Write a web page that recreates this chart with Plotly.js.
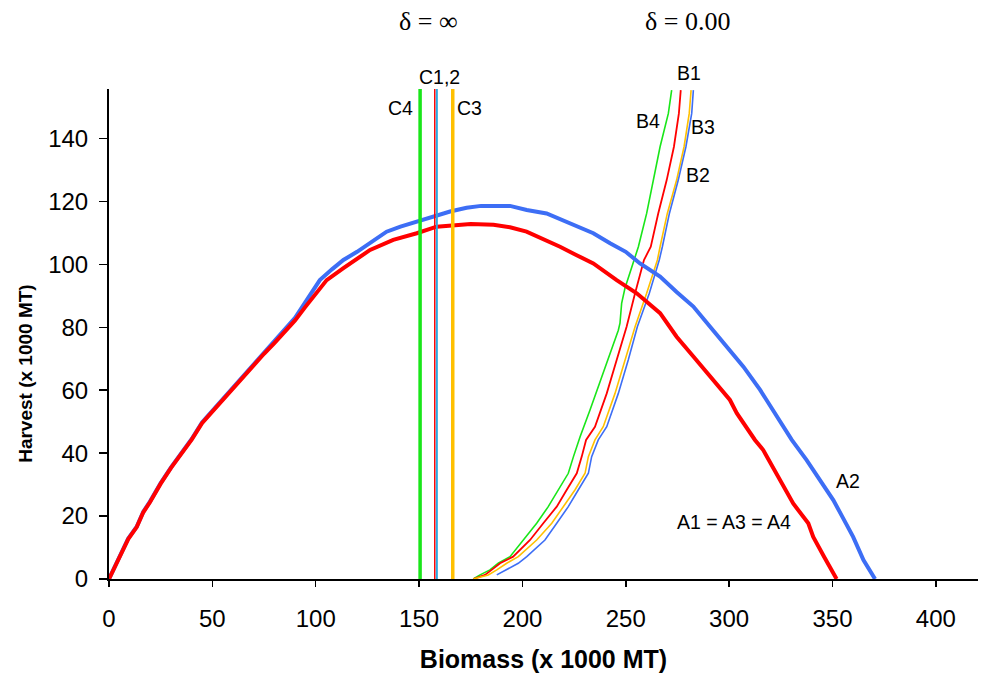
<!DOCTYPE html>
<html>
<head>
<meta charset="utf-8">
<script src="https://cdn.plot.ly/plotly-3.0.1.min.js"></script>
<style>html,body{margin:0;padding:0;background:#fff;}#chart{width:981px;height:675px;}</style>
</head>
<body>
<div id="chart"></div>
<script>
// ---- Data ----
// A2 (blue) equilibrium harvest curve
const a2Biomass = [0,5.3,9.3,13.4,16.6,19.8,25,30,35,40,45,50,55,60,65,70,75,80,85,90,95,102,108,113.4,120,127,134.3,141,148.9,157,165,173,180,194,202.1,211.7,223,234.3,242.4,250,256.9,261.7,266.6,274.6,282.7,290.8,298.8,306.9,315,322.5,330.3,337.5,344,350.4,355,360,365,370.6];
const a2Harvest = [0,7.1,12.9,16.6,21.4,24.6,30.5,35.5,40,44.5,49.8,53.5,57,61,64.5,68.5,72,75.5,79.5,83,88,95,98.5,101.4,104,107,110.4,112,113.6,115.3,116.8,118,118.6,118.6,117.3,116.2,113.1,109.9,106.7,104,100.3,98.1,96.1,91.2,86.6,80.2,73.8,67.5,60.1,52.5,44.2,37.8,31.5,25.1,19.5,13.4,6,0];
// A1 = A3 = A4 (red)
const a1Biomass = [0,5.3,9.3,13.4,16.6,19.8,25,30,35,40,45,50,55,60,65,70,75,80,85,90,95,105.3,113.4,120,126.3,137.5,148.9,158.5,166.6,175,186,194,202,210,218.2,226,234.3,245.6,255.3,266.6,274.6,282.7,292.4,300.4,303.7,312.5,316.5,324,331,338.3,340.7,346,352];
const a1Harvest = [0,7,12.7,16.5,21.2,24.4,30.3,35.3,39.8,44.3,49.5,53.2,56.8,60.7,64.3,68.2,71.6,75,78.8,82.2,86.5,95,98.8,101.8,104.6,107.8,109.9,112,112.5,112.8,112.6,111.8,110.4,108.2,105.6,103,100.3,95,90.8,84.5,77,70.7,63.3,56.9,52.7,44.2,41,32,24,17.7,13.4,7,0];
// B curves (delta = 0.00)
const b4Biomass = [176.2,179.5,184.3,188.3,194.0,200.4,206.9,212.5,217.4,222.2,224.7,227.9,232.7,236.7,240.0,244.0,246.4,247.2,248.0,249.6,254.1,256.1,260.1,263.3,266.6,270.6,272.2];
const b4Harvest = [0,1.3,2.9,5.0,7.1,12.4,17.7,23.0,28.3,33.6,38.9,45.2,53.7,61.1,67.5,74.9,79.1,81.3,87.6,92.4,101.4,105.6,116.2,126.8,137.4,148.0,155.4];
const b1Biomass = [176.2,181.9,185.1,189.2,195.5,203.7,210.1,216.6,221.4,226.3,228.7,230.8,235.1,240.8,245.6,250.4,254.5,258.8,262.1,265.7,269.8,273.3,275.7,276.6];
const b1Harvest = [0,1.3,2.9,5.0,7.1,12.4,17.7,23.0,28.3,33.6,38.9,44.2,48.4,59.0,69.6,80.2,90.8,101.4,105.6,116.2,126.8,137.4,148.0,155.4];
const b3Biomass = [176.2,183.5,187.6,192.4,198.0,206.9,214.2,219.8,225.4,230.3,231.9,235.1,239.1,244.8,249.6,254.5,260.1,265.3,266.6,270.1,274.6,278.2,280.7,281.6];
const b3Harvest = [0,1.3,2.9,5.0,7.1,12.4,17.7,23.0,28.3,33.6,38.9,44.2,48.4,59.0,69.6,80.2,90.8,101.4,105.6,116.2,126.8,137.4,148.0,155.4];
const b2Biomass = [187.6,192.4,198.0,202.1,210.9,216.6,222.2,227.0,231.9,233.5,236.7,240.8,246.4,251.2,255.6,261.4,266.2,267.7,271.1,275.4,279.1,281.9,282.7];
const b2Harvest = [1.3,2.9,5.0,7.1,12.4,17.7,23.0,28.3,33.6,38.9,44.2,48.4,59.0,69.6,80.2,90.8,101.4,105.6,116.2,126.8,137.4,148.0,155.4];
// C lines (delta = infinity): constant biomass
const cNames = ["C4","C1","C2","C3"];
const cBiomass = [150.5,157.6,158.6,166.3];
const cHarvestSpan = [0,156];
// Axis ticks
const xTicks = [0,50,100,150,200,250,300,350,400];
const yTicks = [0,20,40,60,80,100,120,140];

// ---- Styles ----
const RED = "#ff0000", BLUE = "#3d6ef5", GREEN = "#19e619", ORANGE = "#ffc000", CYAN = "#2aa9e0";

function line(x, y, color, width, name) {
  return {x: x, y: y, type: "scatter", mode: "lines", name: name,
          line: {color: color, width: width}, hoverinfo: "skip"};
}

const traces = [
  line(b4Biomass, b4Harvest, GREEN, 1.6, "B4"),
  line(b1Biomass, b1Harvest, RED, 1.8, "B1"),
  line(b3Biomass, b3Harvest, ORANGE, 1.6, "B3"),
  line(b2Biomass, b2Harvest, BLUE, 1.6, "B2"),
  line(a2Biomass, a2Harvest, BLUE, 4, "A2"),
  line(a1Biomass, a1Harvest, RED, 4, "A1"),
];
const cColors = [GREEN, RED, CYAN, ORANGE];
const cWidths = [3.5, 1.5, 2, 3.5];
cNames.forEach((n, i) => {
  traces.push(line([cBiomass[i], cBiomass[i]], cHarvestSpan, cColors[i], cWidths[i], n));
});

const lab = {family: "Liberation Sans, Arial, sans-serif", size: 19.5, color: "#000"};
const ser = {family: "Liberation Serif, Times New Roman, serif", size: 26, color: "#000"};
function ann(text, x, y, font, yref) {
  return {text: text, x: x, y: y, xref: "x", yref: yref || "y", showarrow: false,
          font: font, xanchor: "center", yanchor: "middle"};
}

const NB = "\u00a0";
const layout = {
  width: 981, height: 675,
  margin: {l: 109, r: 3, t: 89, b: 96},
  paper_bgcolor: "#fff", plot_bgcolor: "#fff",
  showlegend: false,
  font: {family: "Liberation Sans, Arial, sans-serif", color: "#000"},
  xaxis: {
    range: [0, 420.4], tickvals: xTicks, ticktext: xTicks.map(String),
    showgrid: false, zeroline: false, showline: true, linecolor: "#000", linewidth: 2,
    ticks: "outside", ticklen: 6, tickwidth: 1.5, tickcolor: "#000",
    tickfont: {size: 24, family: "Liberation Sans, Arial, sans-serif"},
    ticklabelstandoff: 11,
    title: {text: "<b>Biomass (x 1000 MT)</b>", font: {size: 25}, standoff: 20},
    automargin: false
  },
  yaxis: {
    range: [0, 155.75], tickvals: yTicks, ticktext: yTicks.map(String),
    showgrid: false, zeroline: false, showline: true, linecolor: "#000", linewidth: 2,
    ticks: "outside", ticklen: 8, tickwidth: 1.5, tickcolor: "#000",
    tickfont: {size: 24, family: "Liberation Sans, Arial, sans-serif"},
    ticklabelstandoff: 6,
    title: {text: "<b>Harvest (x 1000 MT)" + NB.repeat(15) + "</b>", font: {size: 19}, standoff: 11},
    automargin: false
  },
  annotations: [
    ann("δ = ∞", 154.3, 1.137, ser, "paper"),
    ann("δ = 0.00", 280.1, 1.137, ser, "paper"),
    ann("C1,2", 159.7, 1.0245, lab, "paper"),
    ann("C4", 140.8, 149.7, lab),
    ann("C3", 174.6, 149.7, lab),
    ann("B1", 280.6, 1.0327, lab, "paper"),
    ann("B4", 260.8, 145.6, lab),
    ann("B3", 287.4, 143.7, lab),
    ann("B2", 285.0, 128.4, lab),
    ann("A2", 357.5, 31.2, lab),
    ann("A1 = A3 = A4", 302.4, 18.1, lab)
  ]
};

Plotly.newPlot("chart", traces, layout, {staticPlot: true, displayModeBar: false});
</script>
</body>
</html>
